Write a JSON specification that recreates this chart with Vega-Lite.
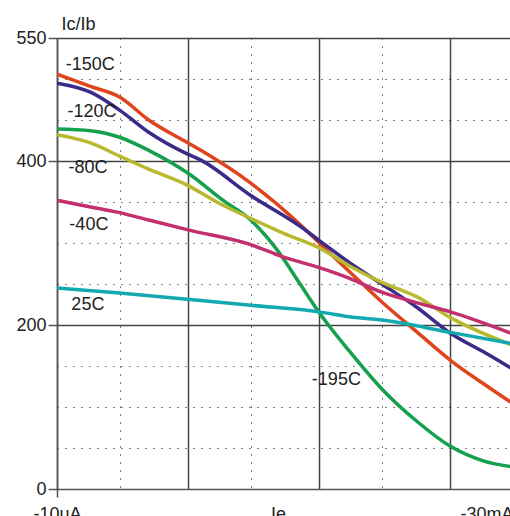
{
  "$schema": "https://vega.github.io/schema/vega-lite/v6.json",
  "width": 456,
  "height": 451,
  "autosize": {"type": "none"},
  "padding": {"left": 57, "top": 38, "right": 0, "bottom": 27},
  "background": "white",
  "config": {"view": {"stroke": null}, "font": "Liberation Sans"},
  "datasets": {
    "curves": [
      {"T": "-150C", "Ie": 1e-5, "hfe": 506},
      {"T": "-150C", "Ie": 1.8e-5, "hfe": 491},
      {"T": "-150C", "Ie": 3e-5, "hfe": 478},
      {"T": "-150C", "Ie": 5e-5, "hfe": 450},
      {"T": "-150C", "Ie": 1e-4, "hfe": 422},
      {"T": "-150C", "Ie": 1.25e-4, "hfe": 413},
      {"T": "-150C", "Ie": 3e-4, "hfe": 373},
      {"T": "-150C", "Ie": 7.2e-4, "hfe": 322},
      {"T": "-150C", "Ie": 1e-3, "hfe": 300},
      {"T": "-150C", "Ie": 1.7e-3, "hfe": 265},
      {"T": "-150C", "Ie": 3e-3, "hfe": 228},
      {"T": "-150C", "Ie": 5.6e-3, "hfe": 191},
      {"T": "-150C", "Ie": 1e-2, "hfe": 157},
      {"T": "-150C", "Ie": 1.8e-2, "hfe": 128},
      {"T": "-150C", "Ie": 3e-2, "hfe": 104},
      {"T": "-120C", "Ie": 1e-5, "hfe": 495},
      {"T": "-120C", "Ie": 1.8e-5, "hfe": 484},
      {"T": "-120C", "Ie": 3e-5, "hfe": 462},
      {"T": "-120C", "Ie": 5e-5, "hfe": 435},
      {"T": "-120C", "Ie": 1e-4, "hfe": 408},
      {"T": "-120C", "Ie": 1.25e-4, "hfe": 401},
      {"T": "-120C", "Ie": 3e-4, "hfe": 358},
      {"T": "-120C", "Ie": 7.2e-4, "hfe": 320},
      {"T": "-120C", "Ie": 1e-3, "hfe": 303},
      {"T": "-120C", "Ie": 1.7e-3, "hfe": 276},
      {"T": "-120C", "Ie": 3e-3, "hfe": 250},
      {"T": "-120C", "Ie": 5.6e-3, "hfe": 221},
      {"T": "-120C", "Ie": 1e-2, "hfe": 190},
      {"T": "-120C", "Ie": 1.8e-2, "hfe": 167},
      {"T": "-120C", "Ie": 3e-2, "hfe": 146},
      {"T": "-195C", "Ie": 1e-5, "hfe": 439},
      {"T": "-195C", "Ie": 1.8e-5, "hfe": 437},
      {"T": "-195C", "Ie": 3e-5, "hfe": 429},
      {"T": "-195C", "Ie": 5e-5, "hfe": 413},
      {"T": "-195C", "Ie": 1e-4, "hfe": 385},
      {"T": "-195C", "Ie": 1.85e-4, "hfe": 352},
      {"T": "-195C", "Ie": 3e-4, "hfe": 328},
      {"T": "-195C", "Ie": 4.8e-4, "hfe": 291},
      {"T": "-195C", "Ie": 7.2e-4, "hfe": 249},
      {"T": "-195C", "Ie": 1e-3, "hfe": 215},
      {"T": "-195C", "Ie": 1.7e-3, "hfe": 168},
      {"T": "-195C", "Ie": 3e-3, "hfe": 122},
      {"T": "-195C", "Ie": 5.6e-3, "hfe": 82},
      {"T": "-195C", "Ie": 1e-2, "hfe": 52},
      {"T": "-195C", "Ie": 1.8e-2, "hfe": 34},
      {"T": "-195C", "Ie": 3e-2, "hfe": 27},
      {"T": "-80C", "Ie": 1e-5, "hfe": 432},
      {"T": "-80C", "Ie": 1.8e-5, "hfe": 422},
      {"T": "-80C", "Ie": 3e-5, "hfe": 406},
      {"T": "-80C", "Ie": 5e-5, "hfe": 390},
      {"T": "-80C", "Ie": 1e-4, "hfe": 370},
      {"T": "-80C", "Ie": 1.65e-4, "hfe": 350},
      {"T": "-80C", "Ie": 3e-4, "hfe": 330},
      {"T": "-80C", "Ie": 5.3e-4, "hfe": 312},
      {"T": "-80C", "Ie": 1e-3, "hfe": 294},
      {"T": "-80C", "Ie": 1.7e-3, "hfe": 272},
      {"T": "-80C", "Ie": 3e-3, "hfe": 252},
      {"T": "-80C", "Ie": 5.6e-3, "hfe": 234},
      {"T": "-80C", "Ie": 1e-2, "hfe": 209},
      {"T": "-80C", "Ie": 3e-2, "hfe": 175},
      {"T": "-40C", "Ie": 1e-5, "hfe": 352},
      {"T": "-40C", "Ie": 1.8e-5, "hfe": 344},
      {"T": "-40C", "Ie": 3e-5, "hfe": 337},
      {"T": "-40C", "Ie": 5e-5, "hfe": 328},
      {"T": "-40C", "Ie": 1e-4, "hfe": 316},
      {"T": "-40C", "Ie": 3e-4, "hfe": 298},
      {"T": "-40C", "Ie": 5.3e-4, "hfe": 283},
      {"T": "-40C", "Ie": 1e-3, "hfe": 270},
      {"T": "-40C", "Ie": 1.7e-3, "hfe": 257},
      {"T": "-40C", "Ie": 3e-3, "hfe": 240},
      {"T": "-40C", "Ie": 5.6e-3, "hfe": 227},
      {"T": "-40C", "Ie": 1e-2, "hfe": 216},
      {"T": "-40C", "Ie": 3e-2, "hfe": 189},
      {"T": "25C", "Ie": 1e-5, "hfe": 245},
      {"T": "25C", "Ie": 3e-5, "hfe": 239},
      {"T": "25C", "Ie": 1.25e-4, "hfe": 230},
      {"T": "25C", "Ie": 3e-4, "hfe": 224},
      {"T": "25C", "Ie": 1e-3, "hfe": 216},
      {"T": "25C", "Ie": 1.7e-3, "hfe": 210},
      {"T": "25C", "Ie": 3e-3, "hfe": 206},
      {"T": "25C", "Ie": 1e-2, "hfe": 191},
      {"T": "25C", "Ie": 3e-2, "hfe": 177}
    ],
    "labels": [
      {"label": "-150C", "Ie": 1.79e-5, "hfe": 517},
      {"label": "-120C", "Ie": 1.85e-5, "hfe": 460},
      {"label": "-80C", "Ie": 1.72e-5, "hfe": 391},
      {"label": "-40C", "Ie": 1.75e-5, "hfe": 322},
      {"label": "25C", "Ie": 1.72e-5, "hfe": 224},
      {"label": "-195C", "Ie": 1.35e-3, "hfe": 133}
    ]
  },
  "layer": [
    {
      "data": {"name": "curves"},
      "mark": {"type": "line", "strokeWidth": 3.5, "interpolate": "monotone", "clip": true},
      "encoding": {
        "x": {
          "field": "Ie",
          "type": "quantitative",
          "scale": {"type": "log", "domain": [1e-5, 0.03], "nice": false},
          "axis": {
            "title": "Ie",
            "values": [1e-5, 3e-5, 1e-4, 3e-4, 1e-3, 3e-3, 1e-2, 3e-2],
            "labelExpr": "datum.value < 2e-5 ? '-10uA' : (datum.value > 0.02 ? '-30mA' : '')",
            "labelFontSize": 18,
            "labelColor": "#222",
            "labelFlush": false,
            "labelOverlap": false,
            "labelPadding": 8,
            "labelBaseline": "top",
            "labelAlign": {"condition": {"test": "datum.value > 0.02", "value": "right"}, "value": "center"},
            "tickSize": 8,
            "tickColor": "#555",
            "tickWidth": 1.5,
            "tickOpacity": {"condition": {"test": "datum.value < 2e-5", "value": 1}, "value": 0},
            "domainColor": "#555",
            "domainWidth": 1.5,
            "grid": true,
            "gridColor": {"condition": {"test": "abs(log(datum.value)/LN10 - round(log(datum.value)/LN10)) < 0.01", "value": "#444"}, "value": "#000"},
            "gridDash": {"condition": {"test": "abs(log(datum.value)/LN10 - round(log(datum.value)/LN10)) < 0.01", "value": []}, "value": [1, 7]},
            "gridWidth": {"condition": {"test": "abs(log(datum.value)/LN10 - round(log(datum.value)/LN10)) < 0.01", "value": 1.5}, "value": 1},
            "titleFontSize": 18,
            "titleFontWeight": "normal",
            "titleColor": "#222",
            "titleX": 221,
            "titleY": 16,
            "titleBaseline": "top"
          }
        },
        "y": {
          "field": "hfe",
          "type": "quantitative",
          "scale": {"domain": [0, 550], "nice": false, "zero": false},
          "axis": {
            "title": "Ic/Ib",
            "values": [0, 50, 100, 150, 200, 250, 300, 350, 400, 450, 500, 550],
            "labelExpr": "indexof([0,200,400,550], datum.value) >= 0 ? datum.label : ''",
            "labelFontSize": 18,
            "labelColor": "#222",
            "labelPadding": 2,
            "labelOverlap": false,
            "tickSize": 9,
            "tickColor": "#555",
            "tickWidth": 1.5,
            "tickOpacity": {"condition": {"test": "indexof([0,200,400,550], datum.value) >= 0", "value": 1}, "value": 0},
            "domainColor": "#555",
            "domainWidth": 1.5,
            "grid": true,
            "gridColor": {"condition": {"test": "indexof([200,400,550], datum.value) >= 0", "value": "#444"}, "value": "#000"},
            "gridDash": {"condition": {"test": "indexof([200,400,550], datum.value) >= 0", "value": []}, "value": [1, 7]},
            "gridWidth": {"condition": {"test": "indexof([200,400,550], datum.value) >= 0", "value": 1.5}, "value": 1},
            "titleAngle": 0,
            "titleAlign": "left",
            "titleBaseline": "alphabetic",
            "titleX": 4,
            "titleY": -9,
            "titleFontSize": 18,
            "titleFontWeight": "normal",
            "titleColor": "#222"
          }
        },
        "color": {
          "field": "T",
          "type": "nominal",
          "scale": {
            "domain": ["-150C", "-120C", "-195C", "-80C", "-40C", "25C"],
            "range": ["#e0441c", "#3b2a88", "#14a04c", "#b9b930", "#c2306f", "#13a9b1"]
          },
          "legend": null
        }
      }
    },
    {
      "data": {"name": "labels"},
      "mark": {"type": "text", "fontSize": 18, "align": "center", "baseline": "middle", "color": "#222"},
      "encoding": {
        "x": {"field": "Ie", "type": "quantitative"},
        "y": {"field": "hfe", "type": "quantitative"},
        "text": {"field": "label"}
      }
    }
  ]
}
